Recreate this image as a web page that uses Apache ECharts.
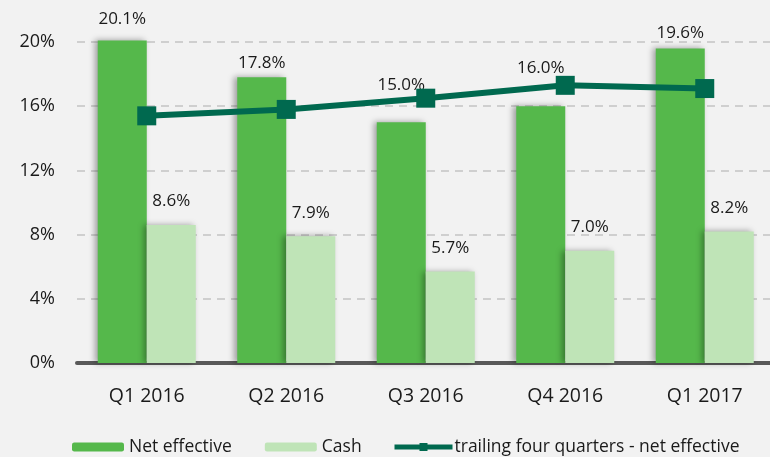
<!DOCTYPE html>
<html><head><meta charset="utf-8">
<script src="https://cdn.jsdelivr.net/npm/echarts@6/dist/echarts.min.js"></script>
<style>html,body{margin:0;padding:0;background:#f2f2f2}#c{width:770px;height:457px}</style>
</head><body><div id="c"></div>
<script>
var categories = ['Q1 2016','Q2 2016','Q3 2016','Q4 2016','Q1 2017'];
var netEffective = [20.1, 17.8, 15.0, 16.0, 19.6];
var cash = [8.6, 7.9, 5.7, 7.0, 8.2];
var trailing = [15.4, 15.8, 16.5, 17.3, 17.1];
var seriesNames = ['Net effective','Cash','trailing four quarters - net effective'];
var yTicks = [0, 4, 8, 12, 16, 20];

// label spacing (style, not data)
var netLabelDist = [13, 6, 29, 30, 7];
var cashLabelDist = 15;

var font = '"Open Sans", "Noto Sans", sans-serif';
var chart = echarts.init(document.getElementById('c'));
var barShadow = {shadowColor:'rgba(0,0,0,0.35)', shadowBlur:6, shadowOffsetX:-3, shadowOffsetY:0};
function pct(p){ return p.value.toFixed(1)+'%'; }
var labelBase = {show:true, position:'top', formatter:pct, fontSize:17, color:'#1a1a1a', fontFamily:font};
var legendText = {fontFamily:font, fontSize:17.5, color:'#1a1a1a'};

chart.setOption({
  backgroundColor:'#f2f2f2',
  animation:false,
  textStyle:{fontFamily:font},
  grid:{left:77, width:697.5, top:42, bottom:94, containLabel:false, outerBoundsMode:'none'},
  legend:[
    {
      top:438, left:72, padding:0,
      itemWidth:52, itemHeight:9, itemGap:33,
      textStyle:legendText,
      data:[seriesNames[0], seriesNames[1]]
    },
    {
      top:438, left:392, padding:0,
      itemWidth:58, itemHeight:10,
      textStyle:Object.assign({}, legendText, {padding:[0,0,0,-3]}),
      data:[{name:seriesNames[2], itemStyle:{color:'#00694f'}, lineStyle:{width:5, color:'#00694f'}}]
    }
  ],
  xAxis:{
    type:'category', data:categories,
    axisLine:{lineStyle:{color:'#595959', width:4}},
    axisTick:{show:false},
    axisLabel:{fontSize:19.5, color:'#1a1a1a', margin:23, fontFamily:font}
  },
  yAxis:{
    type:'value', min:yTicks[0], max:yTicks[yTicks.length-1], interval:4,
    axisLine:{show:false}, axisTick:{show:false},
    axisLabel:{formatter:'{value}%', fontSize:18, color:'#1a1a1a', margin:22, fontFamily:font},
    splitLine:{lineStyle:{color:'#c4c4c4', type:[8,6], width:1.5}}
  },
  series:[
    {name:seriesNames[0], type:'bar', barWidth:49, barGap:'0%', clip:false,
     data:netEffective.map(function(v,i){ return {value:v, label:{distance:netLabelDist[i]}}; }),
     itemStyle:Object.assign({color:'#55b84b'}, barShadow),
     label:labelBase},
    {name:seriesNames[1], type:'bar', data:cash, barWidth:49, clip:false,
     itemStyle:Object.assign({color:'#bfe4b7'}, barShadow),
     label:Object.assign({}, labelBase, {distance:cashLabelDist})},
    {name:seriesNames[2], type:'line', data:trailing, symbol:'rect', symbolSize:19,
     lineStyle:{color:'#00694f', width:6}, itemStyle:{color:'#00694f'}, z:5}
  ]
});
</script></body></html>
